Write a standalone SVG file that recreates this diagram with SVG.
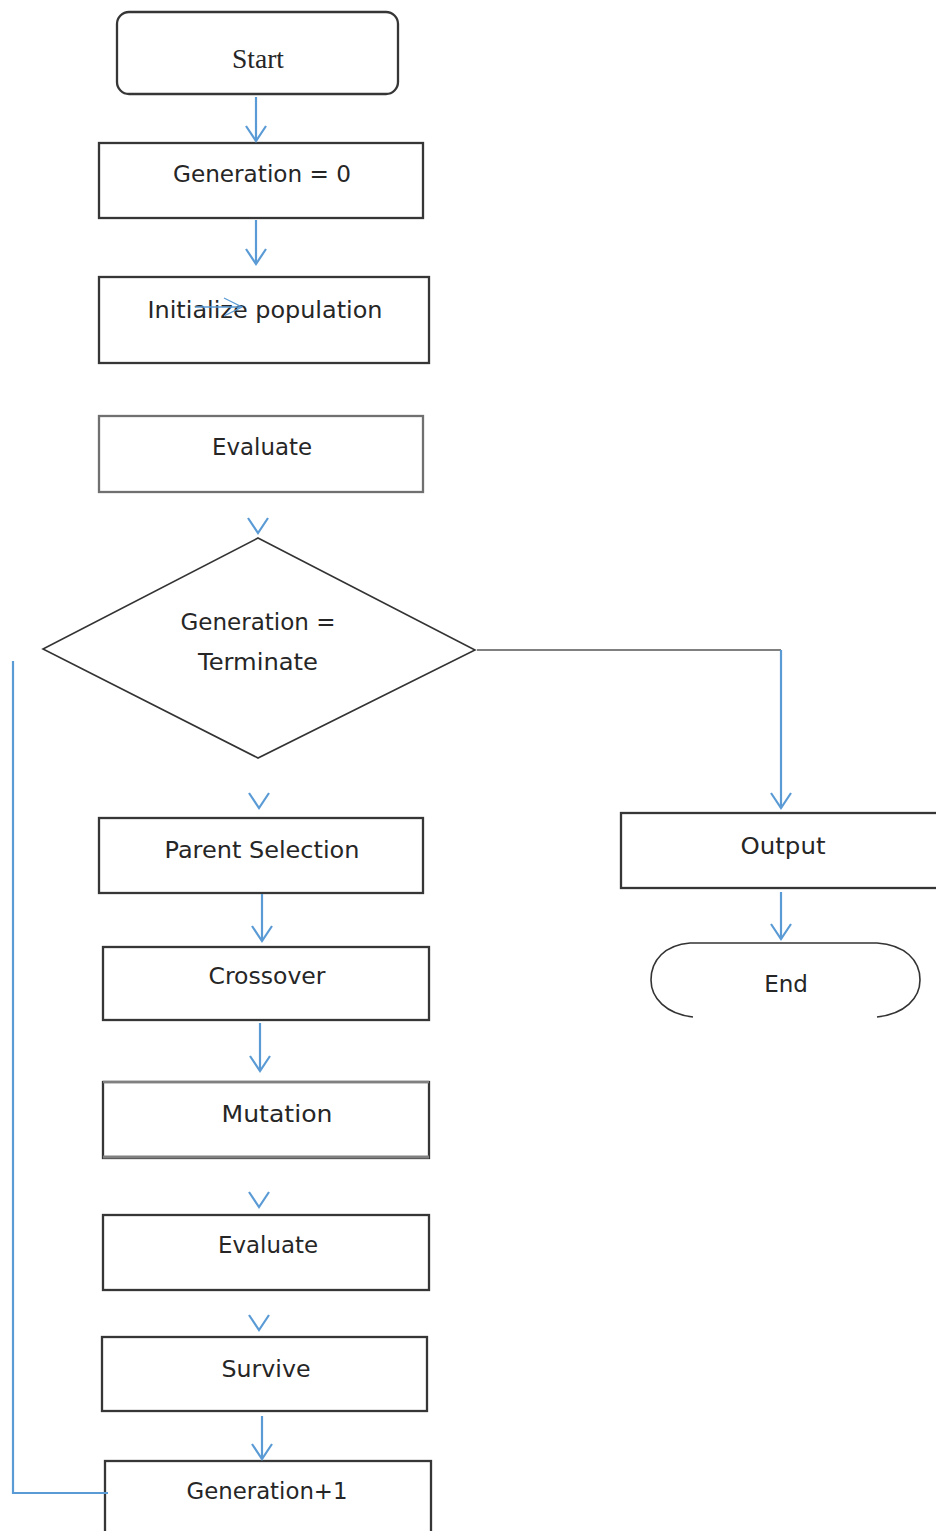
<svg xmlns="http://www.w3.org/2000/svg" xmlns:xlink="http://www.w3.org/1999/xlink" width="936" height="1531" viewBox="0 0 936 1531">
<style>
  .box{fill:#ffffff;stroke:#363636;stroke-width:2.3}
  .diam{fill:#ffffff;stroke:#333333;stroke-width:1.6}
  .lbl{font-family:"DejaVu Sans","Open Sans",sans-serif;font-size:23px;fill:#262626;text-anchor:middle}
  .serif{font-family:"Liberation Serif","Times New Roman",serif;font-size:27px;fill:#262626;text-anchor:middle}
  .conn{fill:none;stroke:#5b9bd5;stroke-width:2.2}
  .thin{fill:none;stroke:#5b9bd5;stroke-width:1.3}
  .grey{fill:none;stroke:#808080;stroke-width:2.2}
</style>
<defs>
  <path id="chev" d="M-10,-15 L0,0 L10,-15" fill="none" stroke="#5b9bd5" stroke-width="2.2"/>
</defs>
<rect width="936" height="1531" fill="#ffffff"/>

<g id="start">
  <rect class="box" x="117" y="12" width="281" height="82" rx="12"/>
  <text class="serif" x="258" y="68" textLength="52" lengthAdjust="spacingAndGlyphs">Start</text>
</g>
<g id="gen0">
  <rect class="box" x="99" y="143" width="324" height="75"/>
  <text class="lbl" x="262" y="182" textLength="178" lengthAdjust="spacingAndGlyphs">Generation = 0</text>
</g>
<g id="init">
  <rect class="box" x="99" y="277" width="330" height="86"/>
  <text class="lbl" x="265" y="318" textLength="235" lengthAdjust="spacingAndGlyphs">Initialize population</text>
</g>
<g id="evaluate1">
  <rect class="box" x="99" y="416" width="324" height="76" style="stroke:#707070"/>
  <text class="lbl" x="262" y="455" textLength="100" lengthAdjust="spacingAndGlyphs">Evaluate</text>
</g>
<g id="decision">
  <polygon class="diam" points="258,538 475,650 258,758 43,649"/>
  <text class="lbl" x="258" y="630" textLength="155" lengthAdjust="spacingAndGlyphs">Generation =</text>
  <text class="lbl" x="258" y="670" textLength="120" lengthAdjust="spacingAndGlyphs">Terminate</text>
</g>
<g id="output">
  <rect class="box" x="621" y="813" width="330" height="75"/>
  <text class="lbl" x="783" y="854" textLength="85" lengthAdjust="spacingAndGlyphs">Output</text>
</g>
<g id="end">
  <path fill="none" stroke="#333333" stroke-width="1.6" d="M693,1017 C666,1014 651,998 651,980 C651,960 665,945 690,943 L877,943 C905,945 920,960 920,980 C920,998 905,1014 877,1017"/>
  <text class="lbl" x="786" y="992">End</text>
</g>
<g id="parent">
  <rect class="box" x="99" y="818" width="324" height="75"/>
  <text class="lbl" x="262" y="858" textLength="195" lengthAdjust="spacingAndGlyphs">Parent Selection</text>
</g>
<g id="crossover">
  <rect class="box" x="103" y="947" width="326" height="73"/>
  <text class="lbl" x="267" y="984" textLength="117" lengthAdjust="spacingAndGlyphs">Crossover</text>
</g>
<g id="mutation">
  <rect class="box" x="103" y="1082" width="326" height="76"/>
  <line x1="103" y1="1082" x2="429" y2="1082" stroke="#808080" stroke-width="2.5"/>
  <line x1="103" y1="1157" x2="429" y2="1157" stroke="#808080" stroke-width="3"/>
  <text class="lbl" x="277" y="1122" textLength="111" lengthAdjust="spacingAndGlyphs">Mutation</text>
</g>
<g id="evaluate2">
  <rect class="box" x="103" y="1215" width="326" height="75"/>
  <text class="lbl" x="268" y="1253" textLength="100" lengthAdjust="spacingAndGlyphs">Evaluate</text>
</g>
<g id="survive">
  <rect class="box" x="102" y="1337" width="325" height="74"/>
  <text class="lbl" x="266" y="1377" textLength="89" lengthAdjust="spacingAndGlyphs">Survive</text>
</g>
<g id="gen1">
  <rect class="box" x="105" y="1461" width="326" height="90"/>
  <text class="lbl" x="267" y="1499" textLength="161" lengthAdjust="spacingAndGlyphs">Generation+1</text>
</g>

<g id="connectors">
  <line class="conn" x1="256" y1="97" x2="256" y2="141"/>
  <use xlink:href="#chev" x="256" y="141"/>
  <line class="conn" x1="256" y1="220" x2="256" y2="264"/>
  <use xlink:href="#chev" x="256" y="264"/>
  <line class="thin" x1="195" y1="307" x2="242" y2="307"/>
  <path class="thin" d="M224,298 L242,307 L224,316"/>
  <use xlink:href="#chev" x="258" y="533"/>
  <path class="grey" d="M477,650 L781,650"/>
  <line class="conn" x1="781" y1="650" x2="781" y2="808"/>
  <use xlink:href="#chev" x="781" y="808"/>
  <line class="conn" x1="781" y1="892" x2="781" y2="939"/>
  <use xlink:href="#chev" x="781" y="939"/>
  <use xlink:href="#chev" x="259" y="808"/>
  <line class="conn" x1="262" y1="894" x2="262" y2="941"/>
  <use xlink:href="#chev" x="262" y="941"/>
  <line class="conn" x1="260" y1="1023" x2="260" y2="1071"/>
  <use xlink:href="#chev" x="260" y="1071"/>
  <use xlink:href="#chev" x="259" y="1207"/>
  <use xlink:href="#chev" x="259" y="1330"/>
  <line class="conn" x1="262" y1="1416" x2="262" y2="1459"/>
  <use xlink:href="#chev" x="262" y="1459"/>
  <path class="conn" d="M108,1493 L13,1493 L13,661"/>
</g>
</svg>
